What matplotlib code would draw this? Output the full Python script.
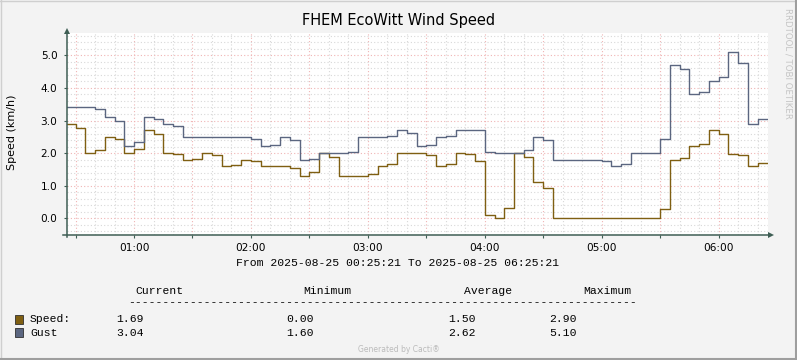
# -*- coding: utf-8 -*-
# RRDtool / Cacti style wind speed graph
import numpy as np
import matplotlib.pyplot as plt
from matplotlib.patches import Rectangle
from matplotlib.lines import Line2D

# 5 minute averages, first interval starts 00:25
speed = [2.90, 2.76, 2.00, 2.09, 2.48, 2.42, 2.00, 2.12, 2.70, 2.58,
         2.00, 1.97, 1.78, 1.81, 2.00, 1.93, 1.60, 1.63, 1.78, 1.75,
         1.60, 1.60, 1.60, 1.53, 1.29, 1.42, 2.00, 1.89, 1.29, 1.29,
         1.29, 1.36, 1.60, 1.67, 2.00, 2.00, 2.00, 1.93, 1.60, 1.67,
         2.00, 1.97, 1.77, 0.10, 0.00, 0.31, 2.00, 1.87, 1.11, 0.92,
         0.00, 0.00, 0.00, 0.00, 0.00, 0.00, 0.00, 0.00, 0.00, 0.00,
         0.00, 0.28, 1.78, 1.84, 2.21, 2.27, 2.71, 2.58, 1.98, 1.93,
         1.60, 1.69, 1.69]
gust = [3.42, 3.42, 3.42, 3.34, 3.10, 2.98, 2.22, 2.33, 3.10, 3.06,
        2.89, 2.83, 2.48, 2.48, 2.48, 2.48, 2.48, 2.48, 2.48, 2.44,
        2.21, 2.25, 2.48, 2.40, 1.78, 1.81, 2.00, 2.00, 2.00, 2.04,
        2.48, 2.48, 2.48, 2.52, 2.70, 2.61, 2.21, 2.25, 2.48, 2.52,
        2.70, 2.70, 2.70, 2.02, 2.00, 2.00, 2.00, 2.09, 2.48, 2.40,
        1.78, 1.78, 1.78, 1.78, 1.78, 1.75, 1.60, 1.67, 2.00, 2.00,
        2.00, 2.42, 4.70, 4.57, 3.81, 3.87, 4.20, 4.32, 5.10, 4.75,
        2.88, 3.04, 3.04]
start_min = 25
step_min = 5
hour_ticks = [60, 120, 180, 240, 300, 360]
hour_labels = ['01:00', '02:00', '03:00', '04:00', '05:00', '06:00']

legend_names = ['Speed:', 'Gust']
legend_cur = ['1.69', '3.04']
legend_min = ['0.00', '1.60']
legend_avg = ['1.50', '2.62']
legend_max = ['2.90', '5.10']

c_speed = '#7F5F12'
c_gust = '#5B6680'
axis_c = '#3E5E54'
minor_c = '#D8D8D8'
major_c = '#F0B4B4'

W, H = 797, 360
fig = plt.figure(figsize=(W / 100, H / 100), dpi=100, facecolor='#F3F3F3')
# plot canvas in pixels: x 66.5..768, y 33..235
ax = fig.add_axes([66.5 / W, 1 - 235 / H, (768 - 66.5) / W, 202 / H])
ax.set_facecolor('#FFFFFF')
for s in ax.spines.values():
    s.set_visible(False)

x0, x1 = start_min + 21 / 60, 385 + 21 / 60
ax.set_xlim(x0, x1)
ax.set_ylim(-0.512, 5.684)

# grid
dots = (0, (1, 2))
for m in range(30, 390, 10):
    if m % 30 == 0:
        ax.axvline(m, color=major_c, lw=0.8, ls=dots, zorder=1)
    else:
        ax.axvline(m, color=minor_c, lw=0.8, ls=dots, zorder=1)
for k in range(-2, 29):
    v = k * 0.2
    if k % 5 == 0:
        ax.axhline(v, color=major_c, lw=0.8, ls=dots, zorder=1)
    else:
        ax.axhline(v, color=minor_c, lw=0.8, ls=dots, zorder=1)

t = start_min + step_min * np.arange(len(speed) + 1)
ax.step(t, speed + [speed[-1]], where='post', color=c_speed, lw=1.0, zorder=3)
ax.step(t, gust + [gust[-1]], where='post', color=c_gust, lw=1.0, zorder=4)

# ticks
ax.set_xticks(list(range(30, 390, 30)))
ax.set_xticklabels([hour_labels[hour_ticks.index(m)] if m in hour_ticks else ''
                    for m in range(30, 390, 30)])
ax.set_yticks([0, 1, 2, 3, 4, 5])
ax.set_yticklabels(['0.0', '1.0', '2.0', '3.0', '4.0', '5.0'])
ax.tick_params(axis='both', length=2.5, width=0.8, color=axis_c,
               labelsize=7.6, labelcolor='#000000')
ax.tick_params(axis='x', pad=3)
ax.tick_params(axis='y', pad=4)

# axes with arrows
ax.plot([0, 0], [-0.012, 1.0], transform=ax.transAxes, color=axis_c,
        lw=1.1, clip_on=False, zorder=5)
ax.plot([0], [1.008], marker='^', ms=4.5, color=axis_c, mew=0,
        transform=ax.transAxes, clip_on=False, zorder=5)
ax.plot([-0.005, 1.0], [0, 0], transform=ax.transAxes, color=axis_c,
        lw=1.1, clip_on=False, zorder=5)
ax.plot([1.004], [0], marker='>', ms=4.5, color=axis_c, mew=0,
        transform=ax.transAxes, clip_on=False, zorder=5)

# titles
fig.text(399 / W, 1 - 21 / H, 'FHEM EcoWitt Wind Speed', ha='center',
         va='center', fontsize=10.5)
fig.text(12 / W, 1 - 132 / H, 'Speed (km/h)', rotation=90, ha='center',
         va='center', fontsize=8)
fig.text(788 / W, 1 - 63 / H, 'RRDTOOL / TOBI OETIKER', rotation=270,
         ha='center', va='center', fontsize=6.2, color='#C4C4C4')

# legend block
mono = dict(family='Liberation Mono', fontsize=8.2, va='center')
fig.text(398 / W, 1 - 263 / H, 'From 2025-08-25 00:25:21 To 2025-08-25 06:25:21',
         ha='center', **mono)
for x, s in [(135, 'Current'), (303, 'Minimum'), (464, 'Average'), (583, 'Maximum')]:
    fig.text(x / W, 1 - 290.5 / H, s, ha='left', **mono)
fig.text(128 / W, 1 - 302 / H, '-' * 74, ha='left', **mono)
rows_y = [319, 332.5]
cols = [c_speed, c_gust]
for i in range(2):
    y = rows_y[i]
    fig.add_artist(Rectangle((15 / W, 1 - (y + 4.5) / H), 8 / W, 9 / H,
                             transform=fig.transFigure, facecolor=cols[i],
                             edgecolor='#303030', lw=0.6))
    fig.text(30 / W, 1 - y / H, legend_names[i], ha='left', **mono)
    fig.text(116 / W, 1 - y / H, legend_cur[i], ha='left', **mono)
    fig.text(286 / W, 1 - y / H, legend_min[i], ha='left', **mono)
    fig.text(448 / W, 1 - y / H, legend_avg[i], ha='left', **mono)
    fig.text(549 / W, 1 - y / H, legend_max[i], ha='left', **mono)

fig.text(399 / W, 1 - 349.5 / H, 'Generated by Cacti®', ha='center',
         va='center', fontsize=5.5, color='#BBBBBB')

# frame around the image
fig.add_artist(Line2D([0.5 / W, 0.5 / W], [0, 1], color='#CFCFCF', lw=1))
fig.add_artist(Line2D([0, 1], [1 - 0.5 / H, 1 - 0.5 / H], color='#CFCFCF', lw=1))
fig.add_artist(Line2D([1 - 1 / W, 1 - 1 / W], [0, 1], color='#9E9E9E', lw=1.5))
fig.add_artist(Line2D([0, 1], [1 / H, 1 / H], color='#9E9E9E', lw=1.5))

fig.savefig('out.png', dpi=100, facecolor=fig.get_facecolor())
